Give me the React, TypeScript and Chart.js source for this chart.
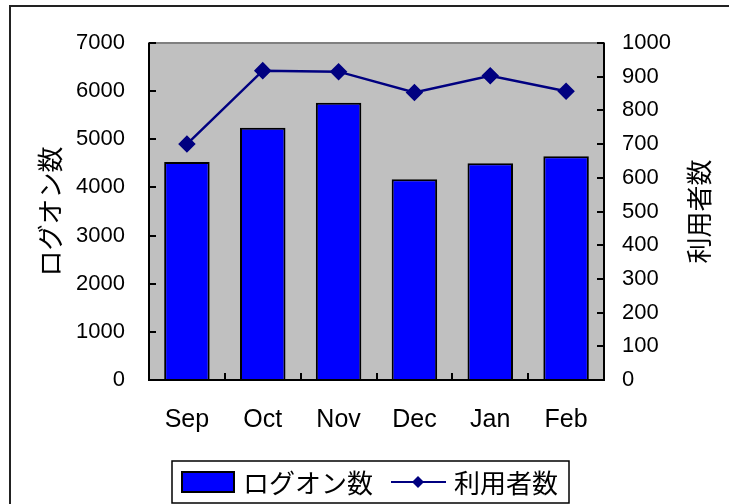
import React, { useEffect, useRef } from 'react';
import { Chart, registerables } from 'chart.js';

Chart.register(...registerables);

const categories = ['Sep', 'Oct', 'Nov', 'Dec', 'Jan', 'Feb'];
const logonCounts = [4530, 5240, 5760, 4170, 4500, 4650];
const userCounts = [700, 918, 915, 853, 903, 857];
const seriesNames = ['ログオン数', '利用者数'];
const leftAxisTitle = 'ログオン数';
const rightAxisTitle = '利用者数';
const leftRange = { min: 0, max: 7000, step: 1000 };
const rightRange = { min: 0, max: 1000, step: 100 };

const NUM_FONT = "'Liberation Sans', Arial, sans-serif";
const JP_FONT = "'Noto Sans CJK JP', sans-serif";

const decorPlugin = {
  id: 'decor',
  beforeDraw(chart: any) {
    const { ctx, chartArea: a } = chart;
    ctx.save();
    ctx.fillStyle = '#ffffff';
    ctx.fillRect(0, 0, chart.width, chart.height);
    ctx.fillStyle = '#c0c0c0';
    ctx.fillRect(a.left, a.top, a.right - a.left, a.bottom - a.top);
    ctx.strokeStyle = '#808080';
    ctx.lineWidth = 2;
    ctx.strokeRect(a.left, a.top, a.right - a.left, a.bottom - a.top);
    ctx.strokeStyle = '#222222';
    ctx.lineWidth = 2;
    ctx.strokeRect(10, 6, chart.width + 20, chart.height + 20);
    ctx.restore();
  },
  afterDatasetsDraw(chart: any) {
    const { ctx, chartArea: a, scales } = chart;
    ctx.save();
    ctx.strokeStyle = '#000000';
    ctx.lineWidth = 2;
    ctx.beginPath();
    ctx.moveTo(a.left, a.top);
    ctx.lineTo(a.left, a.bottom);
    ctx.lineTo(a.right, a.bottom);
    ctx.lineTo(a.right, a.top);
    ctx.stroke();
    const tl = 7;
    ctx.beginPath();
    scales.y.ticks.forEach((t: any) => {
      const y = Math.round(scales.y.getPixelForValue(t.value));
      ctx.moveTo(a.left, y);
      ctx.lineTo(a.left + tl, y);
    });
    scales.y1.ticks.forEach((t: any) => {
      const y = Math.round(scales.y1.getPixelForValue(t.value));
      ctx.moveTo(a.right, y);
      ctx.lineTo(a.right - tl, y);
    });
    const n = categories.length;
    const w = (a.right - a.left) / n;
    for (let i = 1; i < n; i++) {
      const x = Math.round(a.left + i * w);
      ctx.moveTo(x, a.bottom);
      ctx.lineTo(x, a.bottom - tl);
    }
    ctx.stroke();
    ctx.restore();
  },
  afterDraw(chart: any) {
    const { ctx, chartArea: a } = chart;
    ctx.save();
    ctx.fillStyle = '#000000';
    ctx.font = `26px ${JP_FONT}`;
    ctx.textAlign = 'center';
    ctx.textBaseline = 'middle';
    const midY = (a.top + a.bottom) / 2;
    ctx.save();
    ctx.translate(50, midY);
    ctx.rotate(-Math.PI / 2);
    ctx.fillText(leftAxisTitle, 0, 0);
    ctx.restore();
    ctx.save();
    ctx.translate(699, midY);
    ctx.rotate(-Math.PI / 2);
    ctx.fillText(rightAxisTitle, 0, 0);
    ctx.restore();

    // legend
    const bx = 172, by = 461, bw = 397, bh = 42;
    ctx.strokeStyle = '#000000';
    ctx.lineWidth = 1.5;
    ctx.strokeRect(bx, by, bw, bh);
    const cy = by + bh / 2;
    const barDs = chart.data.datasets[0];
    const lineDs = chart.data.datasets[1];
    ctx.fillStyle = barDs.backgroundColor;
    ctx.fillRect(182, cy - 10, 52, 20);
    ctx.strokeStyle = '#000000';
    ctx.lineWidth = 2;
    ctx.strokeRect(182, cy - 10, 52, 20);
    ctx.fillStyle = '#000000';
    ctx.textAlign = 'left';
    ctx.font = `26px ${JP_FONT}`;
    ctx.fillText(barDs.label, 243, cy + 1);
    ctx.strokeStyle = lineDs.borderColor;
    ctx.lineWidth = 2;
    ctx.beginPath();
    ctx.moveTo(391, cy);
    ctx.lineTo(446, cy);
    ctx.stroke();
    ctx.fillStyle = lineDs.borderColor;
    ctx.beginPath();
    const dx = 418, r = 6;
    ctx.moveTo(dx, cy - r);
    ctx.lineTo(dx + r, cy);
    ctx.lineTo(dx, cy + r);
    ctx.lineTo(dx - r, cy);
    ctx.closePath();
    ctx.fill();
    ctx.fillStyle = '#000000';
    ctx.fillText(lineDs.label, 454, cy + 1);
    ctx.restore();
  },
};

export default function App() {
  const ref = useRef<HTMLCanvasElement | null>(null);
  useEffect(() => {
    if (!ref.current) return;
    const chart = new Chart(ref.current, {
      type: 'bar',
      data: {
        labels: categories,
        datasets: [
          {
            type: 'bar',
            label: seriesNames[0],
            data: logonCounts,
            backgroundColor: '#0000ff',
            borderColor: '#000000',
            borderWidth: 2,
            barPercentage: 0.6,
            categoryPercentage: 1.0,
            yAxisID: 'y',
            order: 2,
          } as any,
          {
            type: 'line',
            label: seriesNames[1],
            data: userCounts,
            borderColor: '#000080',
            backgroundColor: '#000080',
            borderWidth: 2.5,
            pointStyle: 'rectRot',
            pointRadius: 7,
            pointBackgroundColor: '#000080',
            pointBorderColor: '#000080',
            tension: 0,
            yAxisID: 'y1',
            order: 1,
          } as any,
        ],
      },
      options: {
        animation: false,
        responsive: false,
        maintainAspectRatio: false,
        layout: { padding: { top: 43, left: 0, right: 0, bottom: 0 } },
        plugins: {
          legend: { display: false },
          tooltip: { enabled: false },
        },
        scales: {
          x: {
            grid: { display: false, drawTicks: false },
            border: { display: false },
            ticks: {
              color: '#000',
              font: { family: NUM_FONT, size: 25 },
              padding: 25,
              maxRotation: 0,
            },
            afterFit: (s: any) => {
              s.height = 124;
            },
          },
          y: {
            position: 'left',
            min: leftRange.min,
            max: leftRange.max,
            grid: { display: false, drawTicks: false },
            border: { display: false },
            ticks: {
              stepSize: leftRange.step,
              color: '#000',
              font: { family: NUM_FONT, size: 22 },
              padding: 24,
              callback: (v: any) => String(v),
            },
            afterFit: (s: any) => {
              s.width = 149;
            },
          },
          y1: {
            position: 'right',
            min: rightRange.min,
            max: rightRange.max,
            grid: { display: false, drawTicks: false },
            border: { display: false },
            ticks: {
              stepSize: rightRange.step,
              color: '#000',
              font: { family: NUM_FONT, size: 22 },
              padding: 18,
              callback: (v: any) => String(v),
            },
            afterFit: (s: any) => {
              s.width = 125;
            },
          },
        },
      } as any,
      plugins: [decorPlugin],
    });
    return () => chart.destroy();
  }, []);
  return (
    <div style={{ position: 'absolute', left: 0, top: 0, width: 729, height: 504 }}>
      <canvas ref={ref} width={729} height={504} style={{ width: 729, height: 504 }} />
    </div>
  );
}
